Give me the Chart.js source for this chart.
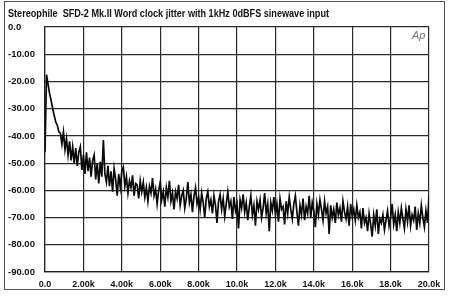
<!DOCTYPE html>
<html>
<head>
<meta charset="utf-8">
<script src="https://cdn.jsdelivr.net/npm/chart.js@4/dist/chart.umd.min.js"></script>
<style>
  html, body { margin: 0; padding: 0; background: #fff; }
  #wrap { width: 450px; height: 296px; }
</style>
</head>
<body>
<div id="wrap"><canvas id="c" width="450" height="296"></canvas></div>
<script>
const titleText = "Stereophile  SFD-2 Mk.II Word clock jitter with 1kHz 0dBFS sinewave input";
const logoText = "Ap";
const binHz = 80; // spacing of spectrum bins (Hz)
// Spectrum level in dB, one value per 80 Hz bin from 0 Hz to 20 kHz
const levelDb = [
  -46, -17.5, -21, -24.5, -27, -30, -32.5, -35, -36, -38.5,
  -39, -43, -38.5, -45, -41, -47, -42, -49, -44, -50,
  -44.5, -51, -46, -44, -52.5, -47, -54, -46, -53, -48,
  -55, -49, -47, -56, -50, -57.5, -49.5, -55, -41.5, -54,
  -57, -51, -58.5, -53, -60.5, -52, -56, -62, -54, -59,
  -53, -51.5, -58.5, -55, -61, -56.5, -59, -54.5, -62, -57.5,
  -58, -63, -56.5, -60.5, -57, -62.5, -59, -64, -58.5, -61,
  -55.5, -62, -59.5, -65, -60, -57, -63.5, -60.5, -66, -59,
  -62.5, -56.5, -64, -61, -67, -60.5, -63, -58, -65.5, -62,
  -60, -66.5, -63, -57, -64.5, -61.5, -68, -62, -59, -65,
  -62.5, -67, -61, -64.5, -70, -63, -60.5, -66, -63.5, -68.5,
  -62, -65.5, -72, -64, -61.5, -67, -63, -69.5, -65, -60.5,
  -66, -64, -70.5, -62.5, -67.5, -65, -74, -63.5, -66.5, -61.5,
  -68, -64.5, -71, -66, -62, -69, -65.5, -73, -64, -67,
  -63.5, -70, -66.5, -61, -68.5, -65, -75, -64.5, -67.5, -62.5,
  -69, -65, -71.5, -63, -67, -66, -72.5, -64, -68.5, -62.5,
  -67, -70.5, -65, -62, -68, -73, -65.5, -69, -63, -71,
  -66, -68.5, -62, -70, -64.5, -67.5, -73.5, -65, -69, -63.5,
  -67, -71, -64, -68.5, -66, -76, -65.5, -70, -67, -72,
  -64.5, -69, -66.5, -71.5, -64, -68, -70.5, -66, -73, -65,
  -69.5, -67, -71, -65.5, -70, -68, -74, -66.5, -72, -70,
  -75, -68.5, -72.5, -77, -69, -73, -67, -76, -70.5, -72,
  -69, -74.5, -71, -67.5, -73, -70, -65, -72.5, -69, -75,
  -68, -72, -66.5, -70.5, -74, -67, -71.5, -65.5, -73, -69,
  -71, -66, -74.5, -68.5, -72, -65.5, -70, -73.5, -67.5, -72,
  -62
];
const xTickLabels = ["0.0","2.00k","4.00k","6.00k","8.00k","10.0k","12.0k","14.0k","16.0k","18.0k","20.0k"];
const yTickLabels = ["0.0","-10.00","-20.00","-30.00","-40.00","-50.00","-60.00","-70.00","-80.00","-90.00"];

const points = levelDb.map((v, i) => ({ x: i * binHz, y: v }));

const framePlugin = {
  id: 'frame',
  beforeDraw(chart) {
    const ctx = chart.ctx;
    ctx.save();
    ctx.fillStyle = '#fff';
    ctx.fillRect(0, 0, chart.width, chart.height);
    ctx.strokeStyle = '#555';
    ctx.lineWidth = 1;
    ctx.strokeRect(4.5, 1.5, 440, 288);
    ctx.restore();
  },
  afterDraw(chart) {
    const ctx = chart.ctx;
    ctx.save();
    ctx.font = 'bold 10.5px "Liberation Sans", Arial, sans-serif';
    ctx.fillStyle = '#111';
    ctx.textBaseline = 'alphabetic';
    const w = ctx.measureText(titleText).width;
    const target = 321;
    ctx.translate(8, 16.5);
    ctx.scale(target / w, 1);
    ctx.fillText(titleText, 0, 0);
    ctx.restore();
    ctx.save();
    ctx.font = 'italic 11px "Liberation Sans", Arial, sans-serif';
    ctx.fillStyle = '#777';
    ctx.fillText(logoText, 412, 39);
    ctx.restore();
  }
};

new Chart(document.getElementById('c'), {
  type: 'line',
  data: {
    datasets: [{
      data: points,
      borderColor: '#0a0a0a',
      borderWidth: 1.7,
      pointRadius: 0,
      tension: 0,
      fill: false
    }]
  },
  options: {
    responsive: false,
    animation: false,
    devicePixelRatio: 1,
    layout: { padding: { left: 8, right: 21, top: 27, bottom: 0 } },
    plugins: { legend: { display: false }, tooltip: { enabled: false }, title: { display: false } },
    scales: {
      x: {
        type: 'linear',
        min: 0, max: 20000,
        afterFit(scale) { scale.height = 24; },
        afterBuildTicks(scale) { scale.ticks = xTickLabels.map((_, i) => ({ value: i * 2000 })); },
        ticks: {
          autoSkip: false, maxRotation: 0, padding: 7,
          color: '#111',
          font: { family: '"Liberation Sans", Arial, sans-serif', size: 9, weight: 'bold' },
          callback: (v, i) => xTickLabels[i]
        },
        grid: { color: '#2a2a2a', lineWidth: 1.2, drawTicks: false },
        border: { display: true, color: '#222', width: 1.2 }
      },
      y: {
        type: 'linear',
        min: -90, max: 0,
        afterFit(scale) { scale.width = 37; },
        afterBuildTicks(scale) { scale.ticks = yTickLabels.map((_, i) => ({ value: -10 * i })); },
        ticks: {
          autoSkip: false, crossAlign: 'far', padding: 0,
          color: '#111',
          font: { family: '"Liberation Sans", Arial, sans-serif', size: 9.5, weight: 'bold' },
          callback: (v) => yTickLabels[Math.round(-v / 10)]
        },
        grid: { color: '#2a2a2a', lineWidth: 1.2, drawTicks: false },
        border: { display: true, color: '#222', width: 1.2 }
      }
    }
  },
  plugins: [framePlugin]
});
</script>
</body>
</html>
